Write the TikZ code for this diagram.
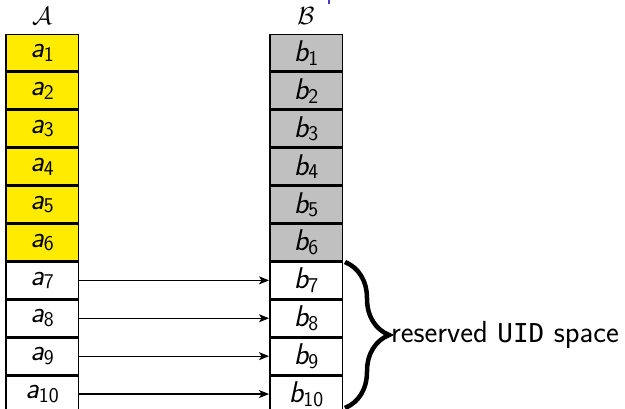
\documentclass[tikz,border=0pt]{standalone}
\usepackage{fontspec}
\newfontfamily\uidfont{DejaVu Sans Mono}
\usetikzlibrary{decorations.pathreplacing,arrows.meta}
\definecolor{cellyellow}{RGB}{255,235,0}
\definecolor{cellgray}{RGB}{192,192,192}
\definecolor{markblue}{RGB}{70,60,200}
% label with a slanted sans letter and an upright sans subscript
\newcommand\cellname[2]{{\fontsize{30}{32}\selectfont\sffamily\slshape #1}\raisebox{-3.5pt}{\fontsize{21}{23}\selectfont\sffamily #2}}
\begin{document}
\begin{tikzpicture}[x=1pt,y=-1pt,
  cell/.style={draw=black,line width=1.5pt,minimum width=72.5pt,minimum height=36.4pt,inner sep=0pt},
  used/.style={cell,fill=cellyellow},
  taken/.style={cell,fill=cellgray},
  free/.style={cell,fill=white},
  link/.style={line width=1.2pt,-{Stealth[length=10pt,width=8pt,inset=2.5pt]}},
  colhead/.style={font=\fontsize{28}{30}\selectfont}]
\useasboundingbox (0,0) rectangle (625,409);
\fill[markblue] (327.5,0) rectangle (330,4.5);
\node[colhead] (hA) at (42,16) {$\mathcal{A}$};
\node[colhead] (hB) at (306,16) {$\mathcal{B}$};
\foreach \i in {1,...,10}{
  \pgfmathsetmacro\yc{34+37.9*(\i-0.5)}
  \ifnum\i<7
    \node[used]  (a\i) at (42,\yc)  {\cellname{a}{\i}};
    \node[taken] (b\i) at (306,\yc) {\cellname{b}{\i}};
  \else
    \node[free] (a\i) at (42,\yc)  {\cellname{a}{\i}};
    \node[free] (b\i) at (306,\yc) {\cellname{b}{\i}};
    \draw[link] (a\i.east) -- (b\i.west);
  \fi
}
\coordinate (braceTop) at (345,262);
\coordinate (braceBot) at (345,408);
\draw[decorate,decoration={brace,amplitude=44pt},line width=4.5pt] (braceTop) -- (braceBot);
\node[anchor=west,inner sep=0pt,font=\fontsize{30.5}{32}\selectfont\sffamily] (res) at (391,335)
  {reserved {\uidfont\fontsize{26}{28}\selectfont UID} space};
\end{tikzpicture}
\end{document}
